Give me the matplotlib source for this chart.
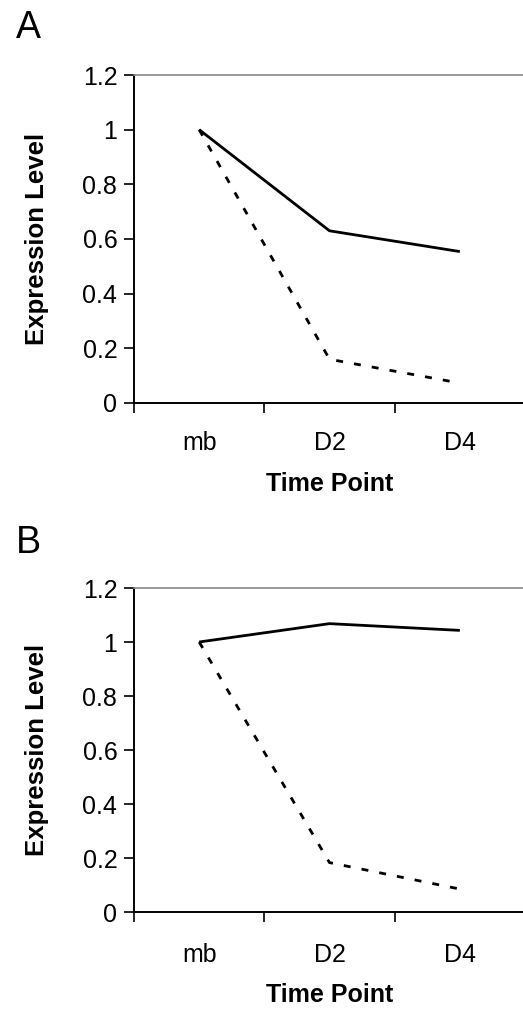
import matplotlib
matplotlib.use('Agg')
import matplotlib.pyplot as plt

plt.rcParams['font.family'] = ['Liberation Sans', 'DejaVu Sans']

time_points = ['mb', 'D2', 'D4']
yticks = [0, 0.2, 0.4, 0.6, 0.8, 1, 1.2]
ytick_labels = ['0', '0.2', '0.4', '0.6', '0.8', '1', '1.2']

a_solid = [1.0, 0.63, 0.554]
a_dashed = [1.0, 0.16, 0.073]
b_solid = [1.0, 1.068, 1.043]
b_dashed = [1.0, 0.183, 0.085]

W, H = 523, 1009
fig = plt.figure(figsize=(W / 100, H / 100), dpi=100)


def panel(left, top, bottom, solid, dashed, letter, letter_y, tpad, xpad):
    ax = fig.add_axes([left / W, 1 - bottom / H, (525 - left) / W, (bottom - top) / H])
    x = range(len(time_points))
    ax.plot(x, solid, color='black', lw=2.0, solid_capstyle='butt')
    ax.plot(x, dashed, color='black', lw=2.0, linestyle=(0, (2.5, 4)))
    ax.set_xlim(-0.5, 2.5)
    ax.set_ylim(0, 1.2)
    ax.set_yticks(yticks)
    ax.set_yticklabels(ytick_labels)
    ax.set_xticks([0, 1, 2])
    ax.set_xticklabels(time_points)
    ax.set_xticks([-0.5, 0.5, 1.5, 2.5], minor=True)
    ax.tick_params(axis='x', which='major', length=0, pad=tpad, labelsize=18)
    ax.tick_params(axis='x', which='minor', direction='out', length=7, width=1.2)
    ax.tick_params(axis='y', direction='out', length=7, width=1.2, labelsize=18, pad=5)
    for s in ['left', 'bottom']:
        ax.spines[s].set_linewidth(1.4)
        ax.spines[s].set_color('black')
    ax.spines['top'].set_color('#888888')
    ax.spines['top'].set_linewidth(1.2)
    ax.spines['right'].set_visible(False)
    ax.set_ylabel('Expression Level', fontsize=18.5, fontweight='bold', labelpad=24)
    ax.set_xlabel('Time Point', fontsize=18, fontweight='bold', labelpad=xpad)
    fig.text(16 / W, 1 - letter_y / H, letter, fontsize=27, va='center', ha='left')
    return ax


panel(134, 75, 403, a_solid, a_dashed, 'A', 28, 20, 12.5)
panel(134, 588, 912, b_solid, b_dashed, 'B', 543, 22.5, 11)

fig.savefig('out.png', dpi=100)
